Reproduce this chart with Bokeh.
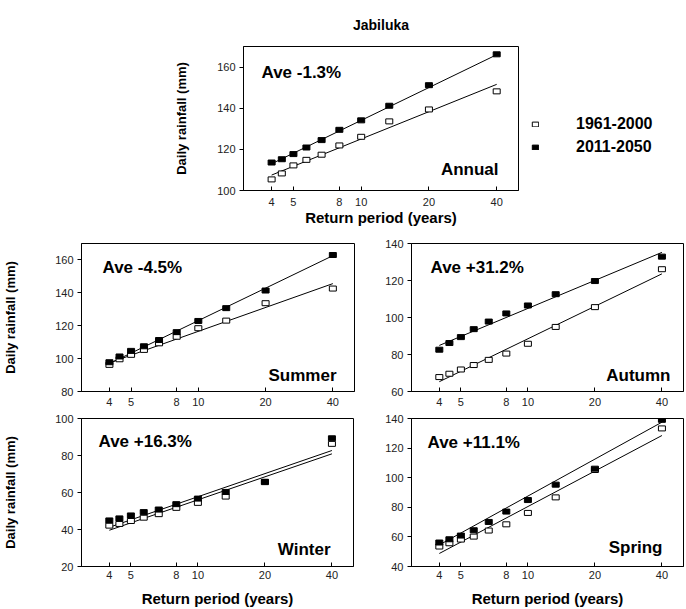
from bokeh.plotting import figure
from bokeh.models import (ColumnDataSource, FixedTicker, SingleIntervalTicker,
                          NumeralTickFormatter, Label, Legend, LegendItem, Range1d)
from bokeh.layouts import column, row
from bokeh.embed import file_html
from bokeh.resources import INLINE

FONT = "Liberation Sans"

# ---------------- data ----------------
return_period = [4.0, 4.44, 5.0, 5.71, 6.67, 8.0, 10.0, 13.33, 20.0, 40.0]
fit_period = [4.0, 40.0]
x_ticks = [4, 5, 8, 10, 20, 40]
series_names = ["1961-2000", "2011-2050"]

annual_1961 = [105.4, 108.3, 112.2, 114.9, 117.4, 121.9, 126.1, 133.6, 139.4, 148.2]
annual_2011 = [113.6, 115.2, 117.7, 120.9, 124.5, 129.5, 134.1, 141.2, 151.2, 166.2]
annual_fit_1961 = [107.5, 151.6]
annual_fit_2011 = [113.0, 166.0]

summer_1961 = [96.2, 99.6, 102.3, 105.3, 109.3, 113.3, 118.5, 123.1, 133.7, 142.6]
summer_2011 = [97.8, 101.3, 104.7, 107.5, 111.3, 116.1, 122.9, 130.7, 141.4, 163.0]
summer_fit_1961 = [97.4, 145.6]
summer_fit_2011 = [97.0, 162.6]

autumn_1961 = [67.8, 69.6, 71.9, 74.3, 77.1, 80.5, 85.8, 94.9, 105.6, 126.1]
autumn_2011 = [82.6, 86.2, 89.4, 93.7, 97.8, 102.2, 106.5, 112.6, 119.7, 132.9]
autumn_fit_1961 = [65.3, 123.6]
autumn_fit_2011 = [84.9, 135.2]

winter_1961 = [42.1, 43.0, 44.6, 46.4, 48.3, 51.7, 54.4, 57.8, 65.6, 86.3]
winter_2011 = [44.9, 46.0, 47.6, 49.4, 50.8, 53.7, 56.7, 60.3, 65.8, 89.3]
winter_fit_1961 = [39.6, 80.9]
winter_fit_2011 = [41.2, 82.7]

spring_1961 = [53.5, 55.7, 58.2, 60.2, 64.3, 68.5, 76.2, 86.7, 105.2, 133.3]
spring_2011 = [56.2, 58.4, 60.9, 64.5, 70.1, 77.1, 84.9, 95.3, 106.1, 139.1]
spring_fit_1961 = [48.8, 128.5]
spring_fit_2011 = [54.6, 137.5]

change_labels = ["Ave -1.3%", "Ave -4.5%", "Ave +31.2%", "Ave +16.3%", "Ave +11.1%"]
season_labels = ["Annual", "Summer", "Autumn", "Winter", "Spring"]
y_ranges = [(100, 170), (80, 170), (60, 140), (20, 100), (40, 140)]

title_text = "Jabiluka"
y_title = "Daily rainfall (mm)"
x_title = "Return period (years)"

OLD_STYLE = dict(fill_color="white", line_color="black", line_width=1)
NEW_STYLE = dict(fill_color="black", line_color="black", line_width=1)


def make_panel(width, height, mb, y_range, old, new, fit_old, fit_new,
               ave_text, season_text, ave_pos, season_pos,
               ylabel=None, ylabel_standoff=28, xlabel=None,
               xtick_standoff=6, xlabel_standoff=0):
    left, right, top, bottom = mb
    p = figure(width=width, height=height, x_axis_type="log",
               x_range=Range1d(3, 50), y_range=Range1d(*y_range),
               output_backend="svg", toolbar_location=None,
               min_border_left=left, min_border_right=right,
               min_border_top=top, min_border_bottom=bottom)
    p.outline_line_color = "black"
    p.outline_line_width = 1
    p.xgrid.visible = False
    p.ygrid.visible = False
    p.background_fill_color = "white"
    p.border_fill_color = "white"

    xa = p.xaxis[0]
    xa.ticker = FixedTicker(ticks=x_ticks)
    xa.formatter = NumeralTickFormatter(format="0")
    xa.major_tick_in = 4
    xa.major_tick_out = 0
    xa.minor_tick_line_color = None
    xa.major_label_standoff = xtick_standoff
    xa.major_label_text_font = FONT
    xa.major_label_text_font_size = "11px"
    xa.major_label_text_color = "#222222"
    xa.axis_line_color = "black"
    xa.major_tick_line_color = "black"
    if xlabel:
        xa.axis_label = xlabel
        xa.axis_label_text_font = FONT
        xa.axis_label_text_font_size = "15px"
        xa.axis_label_text_font_style = "bold"
        xa.axis_label_text_color = "black"
        xa.axis_label_standoff = xlabel_standoff

    ya = p.yaxis[0]
    ya.ticker = SingleIntervalTicker(interval=20)
    ya.major_tick_in = 0
    ya.major_tick_out = 4
    ya.minor_tick_line_color = None
    ya.major_label_standoff = 4
    ya.major_label_text_font = FONT
    ya.major_label_text_font_size = "11px"
    ya.major_label_text_color = "#222222"
    ya.axis_line_color = "black"
    ya.major_tick_line_color = "black"
    if ylabel:
        ya.axis_label = ylabel
        ya.axis_label_text_font = FONT
        ya.axis_label_text_font_size = "13px"
        ya.axis_label_text_font_style = "bold"
        ya.axis_label_text_color = "black"
        ya.axis_label_standoff = ylabel_standoff

    fit_src = ColumnDataSource(dict(x=fit_period, y_old=fit_old, y_new=fit_new))
    p.line("x", "y_old", source=fit_src, line_color="black", line_width=1)
    p.line("x", "y_new", source=fit_src, line_color="black", line_width=1)

    src = ColumnDataSource(dict(x=return_period, old=old, new=new))
    p.rect("x", "old", source=src, width=7, height=5,
           width_units="screen", height_units="screen", **OLD_STYLE)
    p.rect("x", "new", source=src, width=7, height=5,
           width_units="screen", height_units="screen", **NEW_STYLE)

    p.add_layout(Label(x=ave_pos[0], y=ave_pos[1], x_units="screen", y_units="screen",
                       text=ave_text, text_font=FONT, text_font_size="17px",
                       text_font_style="bold", text_color="black",
                       text_align="left", text_baseline="alphabetic"))
    p.add_layout(Label(x=season_pos[0], y=season_pos[1], x_units="screen", y_units="screen",
                       text=season_text, text_font=FONT, text_font_size="17px",
                       text_font_style="bold", text_color="black",
                       text_align="right", text_baseline="alphabetic"))
    return p


# Annual (top): frame x 243-518, y 46-190
p_annual = make_panel(520, 233, (243, 2, 46, 43), y_ranges[0],
                      annual_1961, annual_2011, annual_fit_1961, annual_fit_2011,
                      change_labels[0], season_labels[0], (18, 118), (255, 21),
                      ylabel=y_title, ylabel_standoff=25, xlabel=x_title,
                      xtick_standoff=7, xlabel_standoff=0)
p_annual.title.text = title_text
p_annual.title.align = "center"
p_annual.title.text_font = FONT
p_annual.title.text_font_size = "14px"
p_annual.title.text_font_style = "bold"
p_annual.title.text_color = "black"
p_annual.title.standoff = 28

# Legend panel to the right of the annual chart (proxy glyphs carry no visible data)
p_leg = figure(width=166, height=233, x_range=Range1d(0, 1), y_range=Range1d(0, 1),
               output_backend="svg", toolbar_location=None,
               x_axis_location=None, y_axis_location=None,
               min_border_left=0, min_border_right=0, min_border_top=0, min_border_bottom=0)
p_leg.xgrid.visible = False
p_leg.ygrid.visible = False
p_leg.outline_line_color = None
proxy = ColumnDataSource(dict(x=[float("nan")], y=[float("nan")]))
lo = p_leg.rect("x", "y", source=proxy, width=7, height=5,
                width_units="screen", height_units="screen", **OLD_STYLE)
ln = p_leg.rect("x", "y", source=proxy, width=7, height=5,
                width_units="screen", height_units="screen", **NEW_STYLE)
legend = Legend(items=[LegendItem(label=series_names[0], renderers=[lo]),
                       LegendItem(label=series_names[1], renderers=[ln])],
                location=(11, 33), orientation="vertical",
                glyph_width=8, glyph_height=6, label_standoff=37,
                label_height=20, spacing=3, padding=0, margin=0,
                border_line_color=None, background_fill_alpha=0,
                label_text_font=FONT, label_text_font_size="16px",
                label_text_font_style="bold", label_text_color="black")
p_leg.add_layout(legend)

# Summer / Autumn: frames y 243-392
p_summer = make_panel(382, 175, (80, 28, 10, 16), y_ranges[1],
                      summer_1961, summer_2011, summer_fit_1961, summer_fit_2011,
                      change_labels[1], season_labels[1], (21, 124), (255, 16),
                      ylabel=y_title, ylabel_standoff=34, xtick_standoff=6)
p_autumn = make_panel(304, 175, (29, 3, 10, 16), y_ranges[2],
                      autumn_1961, autumn_2011, autumn_fit_1961, autumn_fit_2011,
                      change_labels[2], season_labels[2], (19, 124), (259, 16),
                      xtick_standoff=6)

# Winter / Spring: frames y 418-567
p_winter = make_panel(382, 201, (79, 29, 10, 42), y_ranges[3],
                      winter_1961, winter_2011, winter_fit_1961, winter_fit_2011,
                      change_labels[3], season_labels[3], (17, 125), (249, 17),
                      ylabel=y_title, ylabel_standoff=34, xlabel=x_title,
                      xtick_standoff=4, xlabel_standoff=8)
p_spring = make_panel(304, 201, (27, 3, 10, 42), y_ranges[4],
                      spring_1961, spring_2011, spring_fit_1961, spring_fit_2011,
                      change_labels[4], season_labels[4], (16, 124), (251, 19),
                      xlabel=x_title, xtick_standoff=4, xlabel_standoff=8)

layout = column(row(p_annual, p_leg), row(p_summer, p_autumn), row(p_winter, p_spring))

with open("out.html", "w") as f:
    f.write(file_html(layout, INLINE))
